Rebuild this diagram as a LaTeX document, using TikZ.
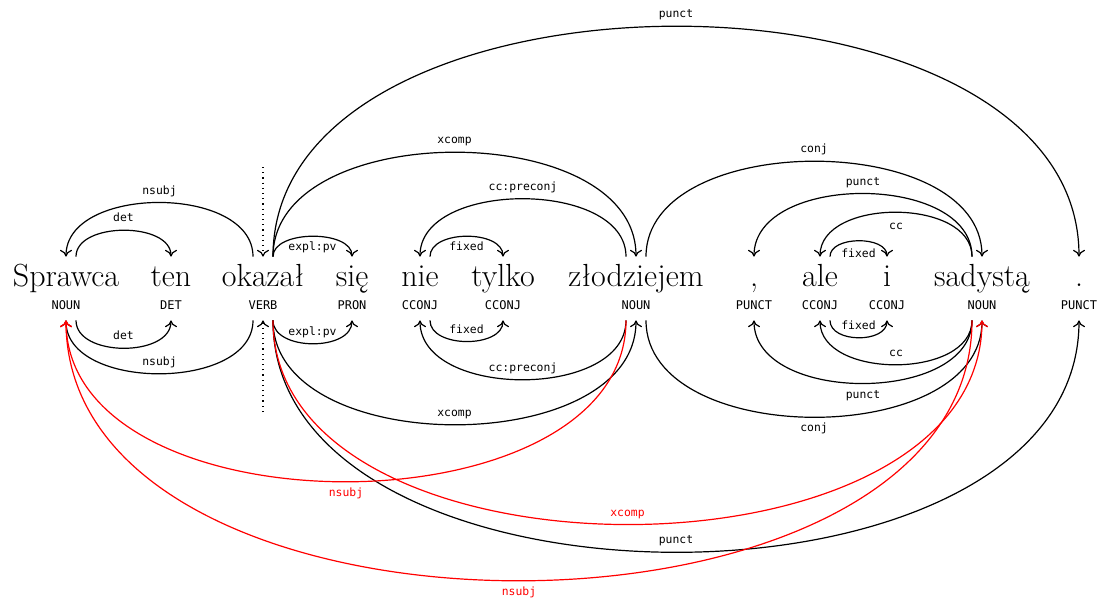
\documentclass[tikz,border=0pt]{standalone}
\usepackage{fontspec}
\usepackage{tikz}
\usetikzlibrary{arrows.meta}
\newfontfamily\tagfont{DejaVu Sans Mono}
\tikzset{
	word/.style={anchor=base, inner sep=0pt, text height=14.5pt, text depth=0pt, font=\fontsize{16}{19}\selectfont},
	upos/.style={anchor=base, inner sep=0pt, text height=4.5pt, text depth=5.5pt, font=\tagfont\fontsize{6}{7}\selectfont},
	rel/.style={inner sep=1pt, text height=4.4pt, text depth=1.3pt, font=\tagfont\fontsize{5.7}{7}\selectfont},
	dep/.style={-{To[length=3.4pt,width=6pt]}, line width=0.6pt},
	edep/.style={dep, red},
}

\begin{document}
\begin{tikzpicture}[x=0.5pt,y=-0.5pt]
			\useasboundingbox (0,0) rectangle (1099,601);
			\node[word] (sprawca) at (66,286) {Sprawca};
			\node[word] (ten) at (171,286) {ten};
			\node[word] (okazal) at (263,286) {okazał};
			\node[word] (sie) at (352,286) {się};
			\node[word] (nie) at (420,286) {nie};
			\node[word] (tylko) at (503,286) {tylko};
			\node[word] (zlodziejem) at (636,286) {złodziejem};
			\node[word] (comma) at (754,286) {,};
			\node[word] (ale) at (820,286) {ale};
			\node[word] (i) at (887,286) {i};
			\node[word] (sadysta) at (982,286) {sadystą};
			\node[word] (dot) at (1079,286) {.};
			\node[upos] (sprawca-upos) at (66,309) {NOUN};
			\node[upos] (ten-upos) at (171,309) {DET};
			\node[upos] (okazal-upos) at (263,309) {VERB};
			\node[upos] (sie-upos) at (352,309) {PRON};
			\node[upos] (nie-upos) at (420,309) {CCONJ};
			\node[upos] (tylko-upos) at (503,309) {CCONJ};
			\node[upos] (zlodziejem-upos) at (636,309) {NOUN};
			\node[upos] (comma-upos) at (754,309) {PUNCT};
			\node[upos] (ale-upos) at (820,309) {CCONJ};
			\node[upos] (i-upos) at (887,309) {CCONJ};
			\node[upos] (sadysta-upos) at (982,309) {NOUN};
			\node[upos] (dot-upos) at (1079,309) {PUNCT};
			\coordinate (root-top) at (263,167);
			\coordinate (root-bot) at (263,412);
			\draw[dep,dotted] (root-top) -- (okazal.north);
			\draw[dep,dotted] (root-bot) -- (okazal-upos.south);
			% basic tree above the words
			\draw[dep] ([xshift=5pt]sprawca.north) .. controls +(0,-35) and +(0,-35) .. (ten.north) node[rel,pos=0.5,above=1.6pt] {det};
			\draw[dep] ([xshift=-5pt]okazal.north) .. controls +(0,-72) and +(0,-72) .. (sprawca.north) node[rel,pos=0.5,above=1.6pt] {nsubj};
			\draw[dep] ([xshift=5pt]okazal.north) .. controls +(0,-27) and +(0,-27) .. (sie.north) node[rel,pos=0.5,below=1.6pt] {expl:pv};
			\draw[dep] ([xshift=5pt]okazal.north) .. controls +(0,-139) and +(0,-139) .. (zlodziejem.north) node[rel,pos=0.5,above=1.6pt] {xcomp};
			\draw[dep] ([xshift=5pt]okazal.north) .. controls +(0,-307) and +(0,-307) .. (dot.north) node[rel,pos=0.5,above=1.6pt] {punct};
			\draw[dep] ([xshift=5pt]nie.north) .. controls +(0,-27) and +(0,-27) .. (tylko.north) node[rel,pos=0.5,below=1.6pt] {fixed};
			\draw[dep] ([xshift=-5pt]zlodziejem.north) .. controls +(0,-77) and +(0,-77) .. (nie.north) node[rel,pos=0.5,above=1.6pt] {cc:preconj};
			\draw[dep] ([xshift=5pt]zlodziejem.north) .. controls +(0,-127) and +(0,-127) .. (sadysta.north) node[rel,pos=0.5,above=1.6pt] {conj};
			\draw[dep] ([xshift=-5pt]sadysta.north) .. controls +(0,-84) and +(0,-84) .. (comma.north) node[rel,pos=0.5,above=1.6pt] {punct};
			\draw[dep] ([xshift=-5pt]sadysta.north) .. controls +(0,-59) and +(0,-59) .. (ale.north) node[rel,pos=0.5,below=2.8pt] {cc};
			\draw[dep] ([xshift=5pt]ale.north) .. controls +(0,-21) and +(0,-21) .. (i.north) node[rel,pos=0.5,below=2.8pt] {fixed};
			% enhanced graph below the tags
			\draw[dep] ([xshift=5pt]sprawca-upos.south) .. controls +(0,37) and +(0,37) .. (ten-upos.south) node[rel,pos=0.5,above=1.6pt] {det};
			\draw[dep] ([xshift=-5pt]okazal-upos.south) .. controls +(0,71) and +(0,71) .. (sprawca-upos.south) node[rel,pos=0.5,above=1.6pt] {nsubj};
			\draw[dep] ([xshift=5pt]okazal-upos.south) .. controls +(0,31) and +(0,31) .. (sie-upos.south) node[rel,pos=0.5,above=1.6pt] {expl:pv};
			\draw[dep] ([xshift=5pt]okazal-upos.south) .. controls +(0,139) and +(0,139) .. (zlodziejem-upos.south) node[rel,pos=0.5,above=1.6pt] {xcomp};
			\draw[dep] ([xshift=5pt]okazal-upos.south) .. controls +(0,309) and +(0,309) .. (dot-upos.south) node[rel,pos=0.5,above=1.6pt] {punct};
			\draw[dep] ([xshift=5pt]nie-upos.south) .. controls +(0,28) and +(0,28) .. (tylko-upos.south) node[rel,pos=0.5,above=1.6pt] {fixed};
			\draw[dep] ([xshift=-5pt]zlodziejem-upos.south) .. controls +(0,79) and +(0,79) .. (nie-upos.south) node[rel,pos=0.5,above=1.6pt] {cc:preconj};
			\draw[dep] ([xshift=5pt]zlodziejem-upos.south) .. controls +(0,129) and +(0,129) .. (sadysta-upos.south) node[rel,pos=0.5,below=1.6pt] {conj};
			\draw[dep] ([xshift=-5pt]sadysta-upos.south) .. controls +(0,84) and +(0,84) .. (comma-upos.south) node[rel,pos=0.5,below=1.6pt] {punct};
			\draw[dep] ([xshift=-5pt]sadysta-upos.south) .. controls +(0,59) and +(0,59) .. (ale-upos.south) node[rel,pos=0.5,above=1.6pt] {cc};
			\draw[dep] ([xshift=5pt]ale-upos.south) .. controls +(0,23) and +(0,23) .. (i-upos.south) node[rel,pos=0.5,above=1.6pt] {fixed};
			\draw[edep] ([xshift=-5pt]zlodziejem-upos.south) .. controls +(0,215) and +(0,215) .. (sprawca-upos.south) node[rel,pos=0.5,below=1.6pt] {nsubj};
			\draw[edep] ([xshift=5pt]okazal-upos.south) .. controls +(0,272) and +(0,272) .. (sadysta-upos.south) node[rel,pos=0.5,above=1.6pt] {xcomp};
			\draw[edep] ([xshift=-5pt]sadysta-upos.south) .. controls +(0,347) and +(0,347) .. (sprawca-upos.south) node[rel,pos=0.5,below=1.6pt] {nsubj};
		\end{tikzpicture}
\end{document}
